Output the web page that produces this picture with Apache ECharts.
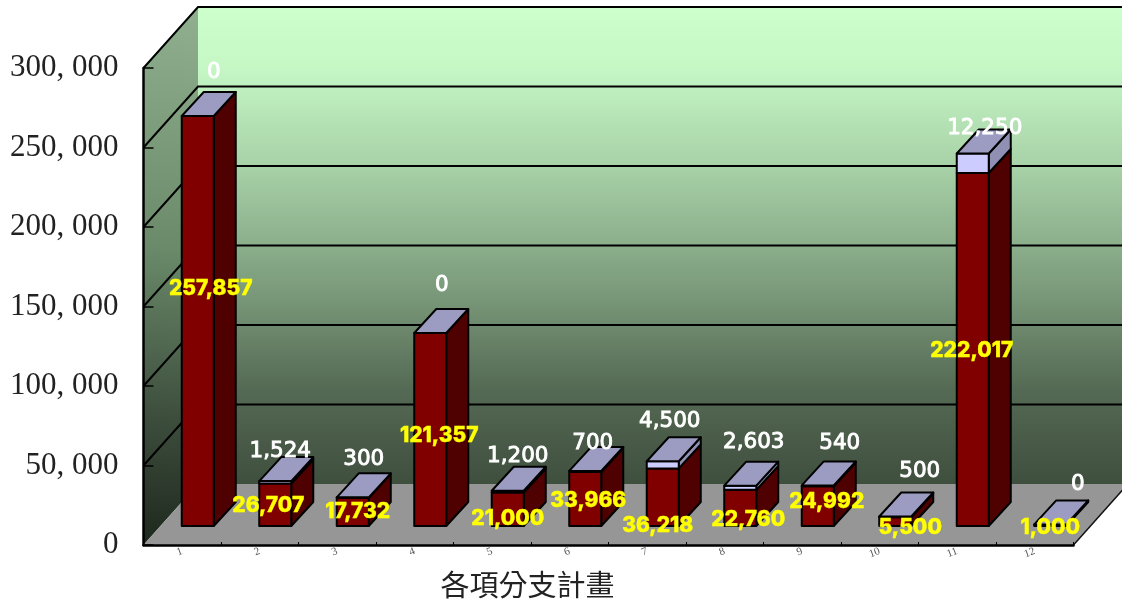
<!DOCTYPE html>
<html><head><meta charset="utf-8">
<style>html,body{margin:0;padding:0;background:#fff}#c{width:1122px;height:600px}</style>
<script src="https://cdn.jsdelivr.net/npm/echarts@6/dist/echarts.min.js"></script>
</head><body><div id="c"></div>
<script>
const categories = ['1','2','3','4','5','6','7','8','9','10','11','12'];
const lowerValues = [257857,26707,17732,121357,21000,33966,36218,22760,24992,5500,222017,1000];
const upperValues = [0,1524,300,0,1200,700,4500,2603,540,500,12250,0];
const yTicks = [0,50000,100000,150000,200000,250000,300000];
const axisTitle = '各項分支計畫';

// layout constants (pixel offsets of the fake 3D projection, label nudges)
const WALL_DX = 54.5, WALL_DY = 61;
const BAR_DX = 15.5, BAR_DY = 19, BAR_W = 32, TOP_DX = 22, TOP_DY = 24;
const lowerNudgeX = [13,-7,5,9,0,3,-5,8,9,15,-1,0];
const lowerNudgeY = [-32,1,0,6,9,2,28,12,-4,6,1,2];
const upperNudgeX = [16,5,11,11.5,10,7.5,7,13.5,22,24.5,12,27.5];
const upperNudgeY = [-44,-30,-38,-48,-34,-27,-40,-43,-42,-45,-25,-40];

const fmt = v => String(v).replace(/\B(?=(\d{3})+(?!\d))/g, ',');
const Grad = echarts.graphic.LinearGradient;

function wallsItem(params, api) {
  const cs = params.coordSys, L = cs.x, R = cs.x + cs.width;
  const yAt = v => api.coord([0, v])[1];
  const y0 = yAt(0), yT = yAt(300000);
  const kids = [];
  kids.push({type:'polygon', shape:{points:[[L+WALL_DX,yT-WALL_DY],[R+WALL_DX,yT-WALL_DY],[R+WALL_DX,y0-WALL_DY],[L+WALL_DX,y0-WALL_DY]]},
    style:{fill:new Grad(0,0,0,1,[{offset:0,color:'#ccffcc'},{offset:0.12,color:'#c6f8c6'},{offset:0.33,color:'#a8d2a8'},{offset:0.6,color:'#7a997a'},{offset:0.8,color:'#556a54'},{offset:1,color:'#3f4f3e'}])}});
  kids.push({type:'polygon', shape:{points:[[L,yT],[L+WALL_DX,yT-WALL_DY],[L+WALL_DX,y0-WALL_DY],[L,y0]]},
    style:{fill:new Grad(1,0,0.2,1,[{offset:0,color:'#90b090'},{offset:0.45,color:'#6a8a6a'},{offset:0.75,color:'#3f503f'},{offset:1,color:'#1e281e'}])}});
  kids.push({type:'polygon', shape:{points:[[L,y0],[R,y0],[R+WALL_DX,y0-WALL_DY],[L+WALL_DX,y0-WALL_DY]]},
    style:{fill:'#969696'}});
  yTicks.forEach(v => {
    if (v === 0) return;
    const y = yAt(v);
    kids.push({type:'polyline', shape:{points:[[L,y],[L+WALL_DX,y-WALL_DY],[R+WALL_DX,y-WALL_DY]]},
      style:{stroke:'#000',lineWidth:2,fill:null}});
  });
  kids.push({type:'line', shape:{x1:R,y1:y0,x2:R+WALL_DX,y2:y0-WALL_DY}, style:{stroke:'#111',lineWidth:1.5}});
  return {type:'group', children:kids};
}

function box(x, yBase, yTop, front, side, withTop) {
  const line = {stroke:'#000', lineWidth:2, lineJoin:'round'};
  const out = [];
  out.push({type:'polygon', shape:{points:[[x+BAR_W,yTop],[x+BAR_W+TOP_DX,yTop-TOP_DY],[x+BAR_W+TOP_DX,yBase-TOP_DY],[x+BAR_W,yBase]]}, style:Object.assign({fill:side},line)});
  out.push({type:'polygon', shape:{points:[[x,yTop],[x+BAR_W,yTop],[x+BAR_W,yBase],[x,yBase]]}, style:Object.assign({fill:front},line)});
  if (withTop) out.push({type:'polygon', shape:{points:[[x,yTop],[x+BAR_W,yTop],[x+BAR_W+TOP_DX,yTop-TOP_DY],[x+TOP_DX,yTop-TOP_DY]]}, style:Object.assign({fill:'#9c9cc2'},line)});
  return out;
}

function barItem(params, api) {
  const i = api.value(0), lo = api.value(1), up = api.value(2);
  const x = api.coord([i, 0])[0] + BAR_DX - BAR_W/2;
  const y0 = api.coord([i, 0])[1] - BAR_DY;
  const y1 = api.coord([i, lo])[1] - BAR_DY;
  const y2 = api.coord([i, lo+up])[1] - BAR_DY;
  let kids = box(x, y0, y1, '#800000', '#4f0000', up === 0);
  if (up > 0) kids = kids.concat(box(x, y1, y2, '#ccccff', '#9090b4', true));
  return {type:'group', children:kids};
}

function labelItem(params, api) {
  const i = api.value(0), lo = api.value(1), up = api.value(2);
  const cx = api.coord([i, 0])[0] + BAR_DX;
  const y0 = api.coord([i, 0])[1] - BAR_DY;
  const y1 = api.coord([i, lo])[1] - BAR_DY;
  const y2 = api.coord([i, lo+up])[1] - BAR_DY;
  return {type:'group', children:[
    {type:'text', style:{text:fmt(up), x:cx+upperNudgeX[i], y:y2+upperNudgeY[i], align:'center', verticalAlign:'middle',
      font:'21.5px "DejaVu Sans"', fill:'#fff', stroke:'#fff', lineWidth:0.9}},
    {type:'text', style:{text:fmt(lo), x:cx+lowerNudgeX[i], y:(y0+y1)/2+lowerNudgeY[i], align:'center', verticalAlign:'middle',
      font:'800 21px Inter', fill:'#ffff00', stroke:'#ffff00', lineWidth:0.4}}
  ]};
}

const rows = categories.map((c,i)=>[i, lowerValues[i], upperValues[i]]);
const chart = echarts.init(document.getElementById('c'), null, {renderer:'canvas'});
chart.setOption({
  animation:false,
  backgroundColor:'#fff',
  grid:{left:143.5,right:48.5,top:68,bottom:55,outerBoundsMode:'none'},
  xAxis:{type:'category',data:categories,z:5,
    axisLine:{lineStyle:{color:'#000',width:2.5}},
    axisTick:{show:true,inside:true,length:3,lineStyle:{color:'#000',width:1}},
    axisLabel:{fontFamily:'Liberation Serif',fontSize:11,color:'#555',rotate:20,margin:6,interval:0},
    name:axisTitle,nameLocation:'middle',nameGap:25,
    nameTextStyle:{fontFamily:'Noto Sans CJK TC',fontSize:29,color:'#222',padding:[0,162,0,0]}},
  yAxis:{type:'value',min:0,max:300000,interval:50000,z:5,
    axisLine:{show:true,lineStyle:{color:'#000',width:2.5}},
    axisTick:{show:true,inside:true,length:10,lineStyle:{color:'#000',width:1.5}},
    splitLine:{show:false},
    axisLabel:{fontFamily:'Liberation Serif',fontSize:31,color:'#222',margin:25,padding:[6,0,0,0],
      formatter:v=>fmt(v).replace(',', ', ')}},
  series:[
    {type:'custom',coordinateSystem:'cartesian2d',renderItem:wallsItem,data:[[0,0]],silent:true,clip:false,z:1},
    {type:'custom',coordinateSystem:'cartesian2d',renderItem:barItem,data:rows,encode:{x:0,y:1},silent:true,clip:false,z:2},
    {type:'custom',coordinateSystem:'cartesian2d',renderItem:labelItem,data:rows,encode:{x:0,y:1},silent:true,clip:false,z:6}
  ]
});
</script></body></html>
